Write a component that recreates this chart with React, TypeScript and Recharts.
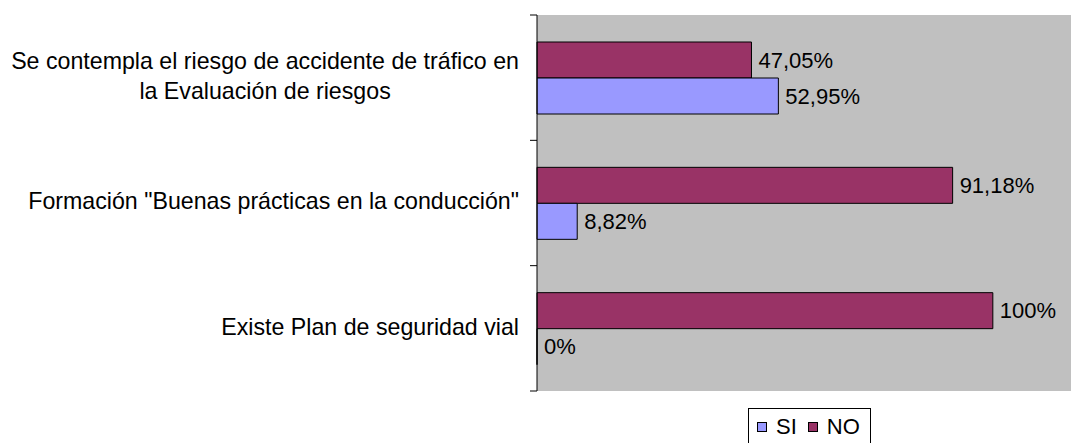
import { BarChart, Bar, XAxis, YAxis, CartesianGrid, Legend, LabelList } from 'recharts'

const categories = [
  'Se contempla el riesgo de accidente de tráfico en\nla Evaluación de riesgos',
  'Formación "Buenas prácticas en la conducción"',
  'Existe Plan de seguridad vial',
]
const siValues = [52.95, 8.82, 0]
const noValues = [47.05, 91.18, 100]
const xDomain = [0, 120]

const data = categories.map((c, i) => ({ name: c, si: siValues[i], no: noValues[i] }))

const FONT = '"Liberation Sans", Arial, sans-serif'
const SI_COLOR = '#9999FF'
const NO_COLOR = '#993366'

let ctx: CanvasRenderingContext2D | null = null
function textWidth(s: string, size: number) {
  if (!ctx && typeof document !== 'undefined') ctx = document.createElement('canvas').getContext('2d')
  if (!ctx) return s.length * size * 0.5
  ctx.font = `${size}px "Liberation Sans", Arial, sans-serif`
  return ctx.measureText(s).width
}

const pct = (v: any) => `${String(v).replace('.', ',')}%`

function CategoryTick(props: any) {
  const { x, y, payload } = props
  const size = 23.2
  const lines = String(payload.value).split('\n')
  const maxW = Math.max(...lines.map((l) => textWidth(l, size)))
  const cx = x - maxW / 2
  const half = payload.offset ?? 0
  const axisX = x + 18
  const isLast = payload.value === categories[categories.length - 1]
  return (
    <g>
      <line x1={axisX - 7} x2={axisX} y1={y - half} y2={y - half} stroke="#000" />
      {isLast && <line x1={axisX - 7} x2={axisX} y1={y + half} y2={y + half} stroke="#000" />}
      {lines.map((l, i) => (
        <text
          key={i}
          x={cx}
          y={y - 2 + (i - (lines.length - 1) / 2) * 30}
          dy="0.36em"
          textAnchor="middle"
          fontSize={size}
          fontFamily={FONT}
          fill="#000"
        >
          {l}
        </text>
      ))}
    </g>
  )
}

function LegendBox() {
  const item = (color: string, label: string, ml: number) => (
    <span style={{ display: 'flex', alignItems: 'center', marginLeft: ml }}>
      <span style={{ width: 8, height: 8, border: '1px solid #000', background: color, display: 'inline-block' }} />
      <span style={{ marginLeft: 9 }}>{label}</span>
    </span>
  )
  return (
    <div
      style={{
        display: 'flex',
        alignItems: 'center',
        border: '1px solid #000',
        background: '#fff',
        padding: '5px 10px 5px 0',
        fontSize: 22,
        fontFamily: FONT,
        color: '#000',
        lineHeight: '25px',
      }}
    >
      {item(SI_COLOR, 'SI', 8)}
      {item(NO_COLOR, 'NO', 11)}
    </div>
  )
}

export default function App() {
  return (
    <div style={{ width: 1071, height: 443, overflow: 'hidden', position: 'relative', background: '#fff' }}>
      <style>{'body{margin:0}'}</style>
      <BarChart
        width={1084}
        height={443}
        data={data}
        layout="vertical"
        margin={{ top: 15, right: 0, left: 0, bottom: 52 }}
        barGap={0}
        barSize={36}
      >
        <CartesianGrid fill="#C0C0C0" horizontal={false} vertical={false} />
        <XAxis type="number" domain={xDomain} hide />
        <YAxis
          type="category"
          dataKey="name"
          width={537}
          tickSize={7}
          tickMargin={11}
          tickLine={false}
          axisLine={{ stroke: '#000' }}
          tick={<CategoryTick />}
          interval={0}
        />
        <Legend
          layout="horizontal"
          verticalAlign="middle"
          align="center"
          wrapperStyle={{ left: 748, top: 408, width: 'auto', height: 'auto' }}
          content={<LegendBox />}
        />
        <Bar dataKey="no" fill={NO_COLOR} stroke="#000" strokeWidth={1} isAnimationActive={false}>
          <LabelList dataKey="no" position="right" offset={7} formatter={pct} fontSize={22} fontFamily={FONT} fill="#000" />
        </Bar>
        <Bar dataKey="si" fill={SI_COLOR} stroke="#000" strokeWidth={1} minPointSize={0.01} isAnimationActive={false}>
          <LabelList dataKey="si" position="right" offset={7} formatter={pct} fontSize={22} fontFamily={FONT} fill="#000" />
        </Bar>
      </BarChart>
    </div>
  )
}
